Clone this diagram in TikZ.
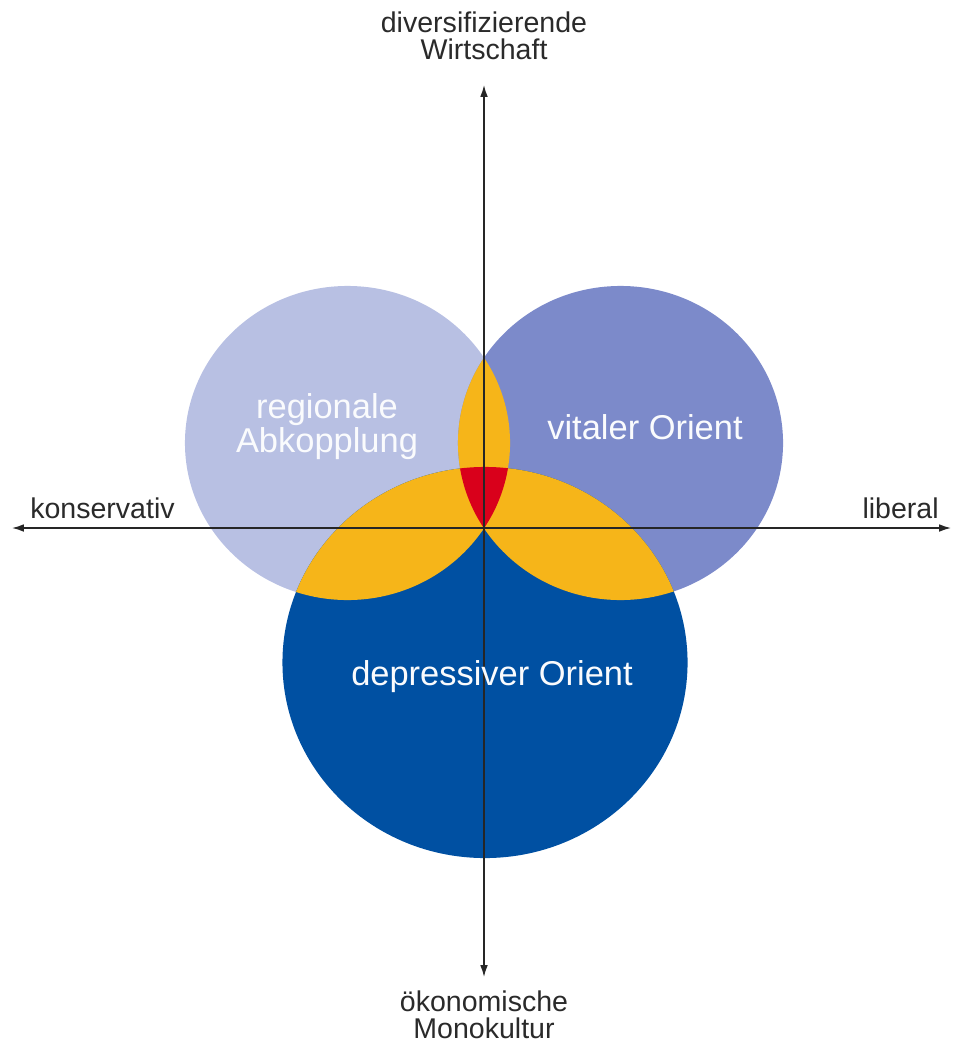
\documentclass[tikz,border=0pt]{standalone}
\usepackage{fontspec}
\setmainfont{Liberation Sans}
\usetikzlibrary{arrows.meta}
\definecolor{lav}{HTML}{B8C0E3}
\definecolor{mid}{HTML}{7C8ACA}
\definecolor{deep}{HTML}{0050A2}
\definecolor{gold}{HTML}{F6B519}
\definecolor{core}{HTML}{D9001B}
\definecolor{axtext}{HTML}{2A2A2A}
\begin{document}
\begin{tikzpicture}[x=0.025cm,y=-0.025cm,
  axislabel/.style={text=axtext,align=center,inner sep=0pt,font=\fontsize{20.3}{19.2}\selectfont},
  circlabel/.style={text=white!93!lav,align=center,inner sep=0pt,font=\fontsize{24.5}{22}\selectfont},
  axisline/.style={draw=black!85,line width=1pt,{Latex[length=8.5pt,width=5.5pt]}-{Latex[length=8.5pt,width=5.5pt]}}]
\useasboundingbox (0,0) rectangle (954,1044);
\def\Lpath{(347.5,443) ellipse [x radius=4.0625cm, y radius=3.925cm]}
\def\Rpath{(620.5,443) ellipse [x radius=4.0625cm, y radius=3.925cm]}
\def\Bpath{(485,662.5) ellipse [x radius=5.0625cm, y radius=4.8875cm]}
% circles
\fill[lav] \Lpath;
\fill[mid] \Rpath;
\fill[deep] \Bpath;
% pairwise overlaps
\begin{scope}\clip \Lpath; \fill[gold] \Rpath; \end{scope}
\begin{scope}\clip \Lpath; \fill[gold] \Bpath; \end{scope}
\begin{scope}\clip \Rpath; \fill[gold] \Bpath; \end{scope}
% triple overlap
\begin{scope}\clip \Lpath; \clip \Rpath; \fill[core] \Bpath; \end{scope}
% axes
\coordinate (top) at (484,85);
\coordinate (bot) at (484,977);
\coordinate (lft) at (12,528);
\coordinate (rgt) at (951,528);
\draw[axisline] (bot) -- (top);
\draw[axisline] (lft) -- (rgt);
% axis labels (base anchor = baseline of the last line)
\node[axislabel,anchor=base] (nordl) at (484,60) {diversifizierende\\Wirtschaft};
\node[axislabel,anchor=base] (suedl) at (484,1038) {ökonomische\\Monokultur};
\node[axislabel,anchor=base west] (westl) at (30,518) {konservativ};
\node[axislabel,anchor=base east] (ostl) at (939,518) {liberal};
% circle labels
\node[circlabel,anchor=base] (reg) at (327,452) {regionale\\Abkopplung};
\node[circlabel,anchor=base] (vit) at (645,439) {vitaler Orient};
\node[circlabel,anchor=base] (dep) at (492,685) {depressiver Orient};
\end{tikzpicture}
\end{document}
